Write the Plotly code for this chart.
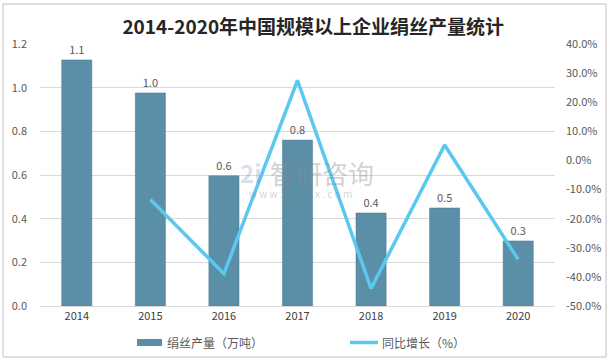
import plotly.graph_objects as go

years = ["2014", "2015", "2016", "2017", "2018", "2019", "2020"]
output = [1.127, 0.976, 0.596, 0.760, 0.426, 0.449, 0.298]
output_labels = ["1.1", "1.0", "0.6", "0.8", "0.4", "0.5", "0.3"]
growth = [None, -13.4, -38.9, 27.5, -44.0, 5.3, -34.0]

left_ticks = [0.0, 0.2, 0.4, 0.6, 0.8, 1.0, 1.2]
right_ticks = [40, 30, 20, 10, 0, -10, -20, -30, -40, -50]

FONT = "Noto Sans CJK SC, Noto Sans, sans-serif"
TXT = "#595959"
BAR_C = "#5B8FA7"
LINE_C = "#5BC8F0"
BAR_NAME = "绢丝产量（万吨）"
LINE_NAME = "同比增长（%）"

fig = go.Figure()
fig.add_trace(go.Bar(
    x=years, y=output, name=BAR_NAME,
    marker=dict(color=BAR_C, line=dict(color="#4A7A90", width=0.5)),
    width=0.41,
    text=output_labels, textposition="outside",
    textfont=dict(size=11, color=TXT), cliponaxis=False,
))
fig.add_trace(go.Scatter(
    x=years, y=growth, name=LINE_NAME, yaxis="y2",
    mode="lines", line=dict(color=LINE_C, width=3.5),
))

fig.update_layout(
    width=613, height=364,
    paper_bgcolor="white", plot_bgcolor="white",
    margin=dict(l=40, r=58, t=44, b=58),
    font=dict(family=FONT, size=11, color=TXT),
    title=dict(text="<b>2014-2020年中国规模以上企业绢丝产量统计</b>",
               xref="container", x=0.511, xanchor="center",
               yref="container", y=0.925, yanchor="middle",
               font=dict(size=19, color="#262626", family=FONT)),
    xaxis=dict(showgrid=False, showline=True, linecolor="#D9D9D9", linewidth=1,
               ticks="", tickfont=dict(size=11, color="#404040")),
    yaxis=dict(range=[0, 1.2], tickvals=left_ticks, tickformat=".1f",
               showgrid=True, gridcolor="#D9D9D9", gridwidth=1,
               zeroline=False, ticks="", ticklabelstandoff=12,
               tickfont=dict(size=11, color=TXT)),
    yaxis2=dict(range=[-50, 40], tickvals=right_ticks,
                ticktext=[f"{v:.1f}%" for v in right_ticks],
                overlaying="y", side="right", showgrid=False, zeroline=False,
                ticks="", ticklabelstandoff=10,
                tickfont=dict(size=11, color=TXT)),
    showlegend=False,
)

# manual legend (wide swatches as in the reference)
fig.add_shape(type="rect", xref="paper", yref="paper",
              x0=(137 - 40) / 515, x1=(162 - 40) / 515,
              y0=(306 - 346) / 262, y1=(306 - 339) / 262,
              fillcolor=BAR_C, line=dict(width=0))
fig.add_annotation(text=BAR_NAME, xref="paper", yref="paper",
                   x=(165 - 40) / 515, y=(306 - 342.5) / 262, xanchor="left", yanchor="middle",
                   showarrow=False, font=dict(size=12, color=TXT))
fig.add_shape(type="line", xref="paper", yref="paper",
              x0=(350 - 40) / 515, x1=(378 - 40) / 515,
              y0=(306 - 342.5) / 262, y1=(306 - 342.5) / 262,
              line=dict(color=LINE_C, width=3.5))
fig.add_annotation(text=LINE_NAME, xref="paper", yref="paper",
                   x=(380 - 40) / 515, y=(306 - 342.5) / 262, xanchor="left", yanchor="middle",
                   showarrow=False, font=dict(size=12, color=TXT))

# watermark
fig.add_annotation(text="智研咨询", xref="paper", yref="paper", x=0.548, y=0.508,
                   showarrow=False, font=dict(size=26, color="rgba(140,140,140,0.4)"))
fig.add_annotation(text="w w w . c h y x x . c o m", xref="paper", yref="paper", x=0.505, y=0.431,
                   showarrow=False, font=dict(size=10, color="rgba(140,140,140,0.4)"))
fig.add_annotation(text="<b>2i</b>", xref="paper", yref="paper", x=0.408, y=0.508,
                   showarrow=False, font=dict(size=24, color="rgba(120,145,190,0.3)"))

# outer frame
fig.add_shape(type="rect", xref="paper", yref="paper",
              x0=(3 - 40) / 515, x1=(606 - 40) / 515,
              y0=(306 - 357) / 262, y1=(306 - 4) / 262,
              line=dict(color="#BFBFBF", width=1), layer="below")

fig.write_html("out.html", config={"displayModeBar": False},
               post_script="document.body.style.margin='0';")
